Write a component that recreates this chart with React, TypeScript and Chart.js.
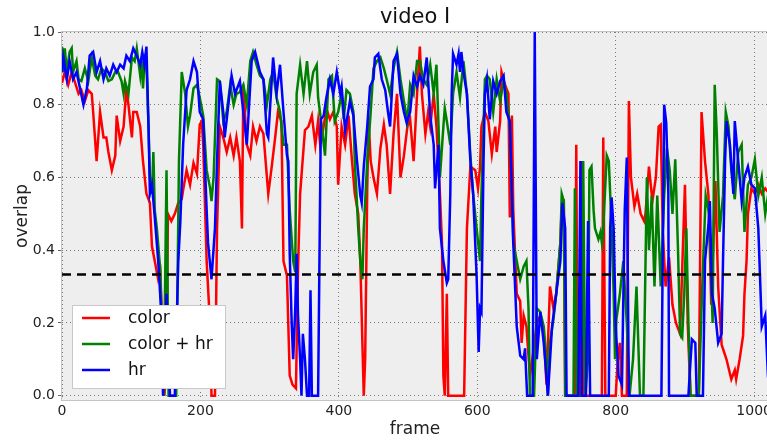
import { useEffect, useRef } from "react";
import { Chart, registerables } from "chart.js";
Chart.register(...registerables);

const FONT = "'DejaVu Sans', sans-serif";

const redFrames = [0,4,9,14,19,24,28,33,38,43,45,50,55,60,64,67,72,77,79,84,89,93,96,101,103,108,113,117,122,127,130,134,139,142,145,148,151,153,158,163,168,173,175,180,185,190,195,199,202,204,209,214,216,221,224,228,233,238,243,248,252,257,260,262,267,272,276,281,286,291,298,303,308,312,317,320,325,329,333,338,341,344,351,356,361,366,370,373,378,382,387,392,397,399,404,409,414,419,423,428,431,434,436,438,441,443,446,450,455,460,465,469,474,479,484,489,494,499,503,508,513,517,520,525,529,532,537,541,546,549,551,553,556,558,581,585,590,597,601,604,606,611,616,621,626,628,633,635,640,645,647,650,652,657,662,664,667,671,676,681,686,691,696,700,705,710,714,720,722,725,727,741,743,745,748,751,753,780,782,785,800,803,806,809,816,819,822,827,831,836,841,843,848,853,858,862,865,868,872,877,882,887,893,900,904,908,920,924,929,934,938,944,948,953,960,967,972,974,979,984,986,989,991,996,1001,1006,1011,1016,1020];
const redValues = [0.86,0.89,0.855,0.89,0.86,0.83,0.84,0.81,0.84,0.83,0.78,0.645,0.78,0.71,0.71,0.67,0.62,0.66,0.77,0.7,0.74,0.845,0.8,0.71,0.78,0.78,0.74,0.645,0.555,0.53,0.41,0.37,0.32,0.34,0.19,0,0.1,0.5,0.48,0.5,0.53,0.54,0.565,0.62,0.58,0.64,0.61,0.745,0.755,0.69,0.37,0.19,0,0,0.46,0.74,0.71,0.67,0.71,0.66,0.71,0.645,0.46,0.855,0.69,0.66,0.74,0.7,0.74,0.72,0.555,0.63,0.71,0.78,0.755,0.37,0.33,0.055,0.03,0.02,0.35,0.555,0.73,0.74,0.77,0.69,0.755,0.69,0.74,0.79,0.76,0.78,0.74,0.58,0.74,0.69,0.77,0.645,0.555,0.5,0.37,0.145,0,0.1,0.57,0.755,0.645,0.6,0.555,0.68,0.745,0.69,0.555,0.72,0.83,0.6,0.66,0.74,0.76,0.645,0.83,0.96,0.83,0.72,0.78,0.74,0.83,0.74,0.555,0.42,0.055,0,0.28,0,0,0.46,0.63,0.62,0.57,0.63,0.74,0.78,0.755,0.665,0.74,0.67,0.755,0.89,0.855,0.83,0.49,0.77,0.51,0.28,0.26,0.145,0.22,0.19,0.055,0.12,0.2,0.22,0.17,0.03,0.3,0.24,0.28,0.42,0.52,0.53,0,0,0.69,0,0,0.645,0,0,0.71,0,0,0.1,0.145,0,0,0.81,0.6,0.52,0.555,0.5,0.48,0.5,0.63,0.535,0.6,0.74,0.745,0.45,0.3,0.38,0.25,0.2,0.17,0.58,0.2,0,0,0.78,0.645,0.55,0.25,0.59,0.3,0.14,0.1,0.045,0.07,0.045,0.1,0.165,0.28,0.37,0.5,0.57,0.555,0.58,0.555,0.57,0.56];

const greenFrames = [0,2,4,7,11,14,16,21,24,28,33,38,43,48,52,57,62,67,72,77,81,86,89,91,96,101,105,108,113,115,117,120,122,125,127,130,132,134,137,142,144,147,151,154,165,169,173,178,182,185,190,195,199,204,209,214,216,219,224,228,233,238,243,248,252,257,262,267,272,276,281,286,291,296,301,305,310,315,320,325,329,334,337,339,344,349,354,358,363,368,370,375,380,385,390,394,399,404,407,411,416,421,423,428,431,434,436,441,446,450,455,460,465,469,474,479,484,489,494,499,503,508,513,517,522,527,532,537,541,544,546,551,553,556,561,565,570,575,580,585,590,594,599,604,606,609,611,614,618,623,628,633,638,642,647,652,655,657,662,667,671,674,676,682,686,691,696,700,702,705,710,714,720,722,725,727,739,741,744,751,753,756,760,762,765,768,770,775,778,780,782,787,790,792,794,797,799,801,806,811,816,820,825,830,835,840,845,848,852,856,860,865,870,874,878,882,886,890,893,896,899,902,905,908,920,925,930,935,940,943,946,950,955,959,963,967,972,977,982,986,991,996,1001,1006,1011,1016,1020];
const greenValues = [0.96,0.89,0.955,0.89,0.945,0.955,0.89,0.92,0.87,0.865,0.9,0.865,0.93,0.88,0.87,0.9,0.89,0.865,0.87,0.89,0.89,0.865,0.83,0.865,0.83,0.93,0.92,0.955,0.88,0.92,0.845,0.94,0.91,0.74,0.6,0.555,0.67,0.51,0.46,0.345,0.19,0,0.62,0,0,0.645,0.89,0.83,0.74,0.77,0.845,0.855,0.82,0.77,0.62,0.57,0.535,0.6,0.87,0.865,0.755,0.78,0.855,0.8,0.83,0.835,0.855,0.8,0.92,0.945,0.91,0.88,0.87,0.8,0.87,0.89,0.82,0.78,0.69,0.69,0.51,0.37,0.34,0.83,0.91,0.83,0.92,0.83,0.89,0.91,0.82,0.745,0.66,0.87,0.88,0.755,0.78,0.83,0.76,0.84,0.83,0.78,0.645,0.46,0.37,0.32,0.46,0.645,0.78,0.9,0.92,0.93,0.9,0.87,0.83,0.9,0.945,0.87,0.81,0.755,0.855,0.83,0.92,0.92,0.87,0.855,0.91,0.83,0.91,0.74,0.6,0.74,0.79,0.755,0.69,0.83,0.89,0.82,0.92,0.83,0.66,0.555,0.46,0.37,0.555,0.74,0.87,0.88,0.87,0.78,0.87,0.81,0.865,0.83,0.74,0.42,0.39,0.37,0.32,0.355,0.37,0.24,0,0,0.24,0.23,0.19,0.1,0,0.145,0.21,0.28,0.42,0.555,0.535,0,0,0.57,0,0,0.645,0,0.1,0.62,0.63,0.51,0.46,0.43,0.45,0.42,0.46,0.66,0.645,0.555,0.46,0.28,0.1,0.21,0.28,0.37,0.2,0,0.1,0.3,0,0,0.6,0.4,0.55,0.3,0.55,0.3,0.55,0.68,0.62,0.5,0.65,0.4,0.17,0.16,0.28,0.46,0.2,0,0,0.3,0.55,0.5,0.2,0.855,0.72,0.45,0.55,0.78,0.74,0.62,0.54,0.67,0.69,0.45,0.58,0.6,0.65,0.55,0.6,0.5,0.55];

const blueFrames = [0,2,7,11,16,21,26,31,36,40,45,50,55,60,64,69,74,79,84,89,93,98,103,108,113,116,119,122,125,127,130,134,139,143,146,151,156,163,168,171,175,180,185,190,195,199,204,209,211,216,221,224,226,228,233,235,238,245,250,257,262,267,269,274,279,286,291,296,298,305,310,315,320,325,327,329,332,334,337,339,341,344,346,348,351,354,357,359,361,370,374,378,382,387,392,397,402,404,409,416,421,426,431,433,436,441,445,450,452,457,462,467,471,474,479,484,489,494,498,503,508,513,517,522,527,532,537,539,544,546,551,556,558,561,563,565,570,573,575,577,580,585,590,594,599,602,604,606,609,611,614,618,623,628,633,638,642,647,652,657,662,667,669,672,680,683,686,691,696,698,702,708,714,720,723,727,729,746,749,751,757,760,763,790,792,794,797,800,804,809,813,816,819,866,870,873,876,877,905,910,915,917,926,929,934,936,939,943,948,953,955,958,960,965,970,972,977,982,986,991,996,1001,1006,1011,1016,1020];
const blueValues = [0.89,0.93,0.87,0.92,0.87,0.89,0.845,0.8,0.845,0.935,0.945,0.89,0.92,0.87,0.9,0.88,0.91,0.89,0.91,0.9,0.935,0.92,0.955,0.935,0.91,0.945,0.91,0.96,0.74,0.555,0.58,0.49,0.37,0.24,0,0.28,0,0,0.37,0.48,0.69,0.84,0.87,0.92,0.89,0.78,0.76,0.51,0.42,0.32,0.46,0.645,0.755,0.865,0.78,0.71,0.76,0.88,0.83,0.865,0.78,0.69,0.755,0.92,0.945,0.89,0.87,0.72,0.71,0.93,0.83,0.91,0.78,0.66,0.645,0.39,0.19,0.1,0.24,0.39,0.22,0.1,0,0.17,0.1,0,0,0.29,0,0,0.76,0.77,0.82,0.87,0.83,0.89,0.83,0.85,0.73,0.81,0.77,0.65,0.55,0.53,0.63,0.74,0.85,0.87,0.93,0.94,0.87,0.84,0.78,0.74,0.92,0.94,0.83,0.78,0.75,0.78,0.88,0.85,0.88,0.855,0.93,0.77,0.69,0.57,0.69,0.46,0.37,0.31,0.32,0.555,0.83,0.94,0.91,0.94,0.89,0.945,0.89,0.83,0.645,0.555,0.33,0.12,0.24,0.23,0.645,0.83,0.87,0.76,0.865,0.83,0.865,0.88,0.78,0.755,0.42,0.19,0.11,0.1,0.13,0,0,1.0,0.1,0.23,0.145,0.1,0,0.19,0.28,0.37,0.53,0.46,0,0,0.645,0,0,0.48,0,0,0.46,0.545,0.46,0.19,0.055,0.03,0.51,0.655,0,0,0.8,0.75,0.555,0,0,0.155,0.145,0,0,0.37,0.47,0.535,0.28,0.24,0.145,0.17,0.37,0.645,0.755,0.69,0.555,0.755,0.645,0.535,0.6,0.63,0.58,0.57,0.46,0.19,0.22,0.05];

const seriesNames = ["color", "color + hr", "hr"];
const seriesColors = ["#ff0000", "#008000", "#0000ff"];
const xTicks = [0, 200, 400, 600, 800, 1000];
const yTicks = [0, 0.2, 0.4, 0.6, 0.8, 1.0];
const threshold = 1 / 3;
const xMax = 1020;
const yMin = -0.012;
const yMax = 1.0;

function toPoints(frames: number[], values: number[]) {
  return frames.map((x, i) => ({ x, y: values[i] }));
}

const decorPlugin = {
  id: "decor",
  beforeDraw(chart: any) {
    const { ctx, chartArea: a } = chart;
    ctx.save();
    ctx.fillStyle = "#ffffff";
    ctx.fillRect(0, 0, chart.width, chart.height);
    ctx.fillStyle = "#eeeeee";
    ctx.fillRect(a.left, a.top, a.right - a.left, a.bottom - a.top);
    ctx.restore();
  },
  afterDraw(chart: any) {
    const { ctx, chartArea: a } = chart;
    ctx.save();
    ctx.strokeStyle = "#c4c4c4";
    ctx.lineWidth = 1;
    ctx.strokeRect(a.left - 0.5, a.top - 0.5, a.right - a.left + 1, a.bottom - a.top + 1);
    ctx.fillStyle = "#111";
    ctx.font = `21px ${FONT}`;
    ctx.textAlign = "center";
    ctx.textBaseline = "middle";
    ctx.fillText("video I", (a.left + a.right) / 2, 18);
    const bx = 72, by = 305, bw = 154, bh = 84;
    ctx.fillStyle = "#ffffff";
    ctx.fillRect(bx, by, bw, bh);
    ctx.strokeStyle = "#c8c8c8";
    ctx.strokeRect(bx + 0.5, by + 0.5, bw - 1, bh - 1);
    ctx.font = `17px ${FONT}`;
    ctx.textAlign = "left";
    seriesNames.forEach((name, i) => {
      const y = 318 + i * 26;
      ctx.strokeStyle = seriesColors[i];
      ctx.lineWidth = 2.5;
      ctx.beginPath();
      ctx.moveTo(82, y);
      ctx.lineTo(110, y);
      ctx.stroke();
      ctx.fillStyle = "#111";
      ctx.fillText(name, 128, y + 1);
    });
    ctx.restore();
  },
};

export default function App() {
  const ref = useRef<HTMLCanvasElement | null>(null);
  useEffect(() => {
    if (!ref.current) return;
    const lineDs = (label: string, frames: number[], values: number[], color: string, order: number) => ({
      label,
      data: toPoints(frames, values),
      borderColor: color,
      backgroundColor: color,
      borderWidth: 2.5,
      pointRadius: 0,
      tension: 0,
      fill: false,
      order,
    });
    const chart = new Chart(ref.current, {
      type: "line",
      data: {
        datasets: [
          lineDs(seriesNames[0], redFrames, redValues, seriesColors[0], 3),
          lineDs(seriesNames[1], greenFrames, greenValues, seriesColors[1], 2),
          lineDs(seriesNames[2], blueFrames, blueValues, seriesColors[2], 1),
          {
            label: "threshold",
            data: [{ x: 0, y: threshold }, { x: xMax, y: threshold }],
            borderColor: "#000",
            borderWidth: 2.5,
            borderDash: [9, 6],
            pointRadius: 0,
            fill: false,
            order: 0,
          } as any,
        ],
      },
      options: {
        responsive: false,
        maintainAspectRatio: false,
        devicePixelRatio: 1,
        animation: false,
        events: [],
        layout: { padding: { left: 0, top: 32, right: 22, bottom: 0 } },
        plugins: { legend: { display: false }, tooltip: { enabled: false }, title: { display: false } },
        scales: {
          x: {
            type: "linear",
            min: 0,
            max: xMax,
            afterBuildTicks: (s: any) => { s.ticks = xTicks.map((v) => ({ value: v })); },
            afterFit: (s: any) => { s.height = 44; },
            ticks: { font: { family: FONT, size: 14 }, color: "#222", padding: 3, maxRotation: 0, autoSkip: false, callback: (v: any) => String(v) },
            grid: { color: "#7a7a7a", lineWidth: 1, drawTicks: false },
            border: { display: false, dash: [1, 3] },
            title: { display: true, text: "frame", font: { family: FONT, size: 17 }, color: "#222", padding: { top: 0, bottom: 4 } },
          },
          y: {
            type: "linear",
            min: yMin,
            max: yMax,
            afterBuildTicks: (s: any) => { s.ticks = yTicks.map((v) => ({ value: v })); },
            afterFit: (s: any) => { s.width = 62; },
            ticks: { font: { family: FONT, size: 14 }, color: "#222", padding: 3, callback: (v: any) => Number(v).toFixed(1) },
            grid: { color: "#7a7a7a", lineWidth: 1, drawTicks: true, tickLength: 4, tickColor: "#666", tickBorderDash: [] },
            border: { display: false, dash: [1, 3] },
            title: { display: true, text: "overlap", font: { family: FONT, size: 17 }, color: "#222", padding: { top: 12, bottom: 0 } },
          },
        },
      } as any,
      plugins: [decorPlugin],
    });
    return () => chart.destroy();
  }, []);
  return (
    <div style={{ position: "fixed", left: 0, top: 0, width: 767, height: 444, overflow: "hidden", background: "#fff" }}>
      <canvas ref={ref} width={790} height={444} style={{ display: "block", width: 790, height: 444 }} />
    </div>
  );
}
